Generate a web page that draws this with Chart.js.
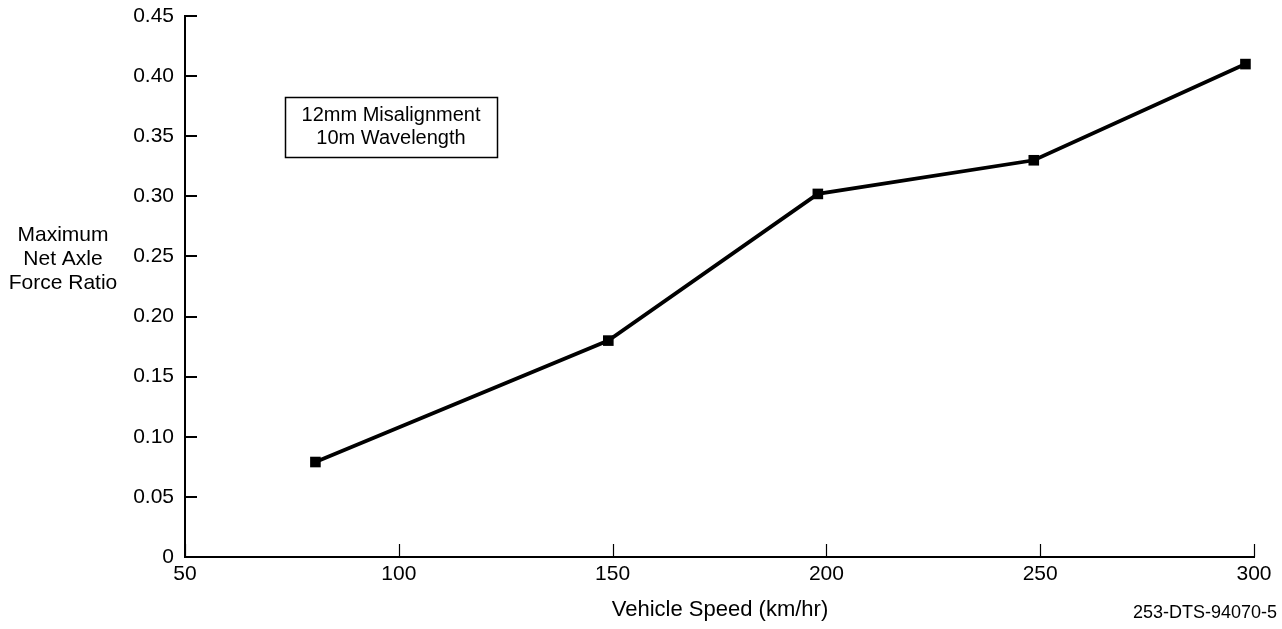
<!DOCTYPE html>
<html>
<head>
<meta charset="utf-8">
<script src="https://cdn.jsdelivr.net/npm/chart.js@4.4.1/dist/chart.umd.min.js"></script>
<style>
  html, body { margin: 0; padding: 0; background: #fff; }
  #wrap { width: 1282px; height: 629px; }
</style>
</head>
<body>
<div id="wrap"><canvas id="c" width="1282" height="629"></canvas></div>
<script>
// ---- data ----
const speeds = [80.5, 149, 198, 248.5, 298];
const forceRatio = [0.079, 0.18, 0.302, 0.33, 0.41];
const xTicks = [50, 100, 150, 200, 250, 300];
const yTicks = [0, 0.05, 0.10, 0.15, 0.20, 0.25, 0.30, 0.35, 0.40, 0.45];
const yTitleLines = ['Maximum', 'Net Axle', 'Force Ratio'];
const xTitle = 'Vehicle Speed (km/hr)';
const noteLines = ['12mm Misalignment', '10m Wavelength'];
const footnote = '253-DTS-94070-5';

const FONT = '"Liberation Sans", Arial, Helvetica, sans-serif';

const points = speeds.map((s, i) => ({ x: s, y: forceRatio[i] }));

const decorPlugin = {
  id: 'decor',
  afterDraw(chart) {
    const ctx = chart.ctx;
    const xs = chart.scales.x, ys = chart.scales.y;
    const ca = chart.chartArea;
    ctx.save();
    ctx.strokeStyle = '#000';
    // inward y ticks
    ctx.lineWidth = 2;
    yTicks.forEach(v => {
      const py = Math.round(ys.getPixelForValue(v));
      ctx.beginPath();
      ctx.moveTo(ca.left, py);
      ctx.lineTo(ca.left + 12, py);
      ctx.stroke();
    });
    // inward x ticks
    ctx.lineWidth = 1.2;
    xTicks.forEach(v => {
      const px = Math.round(xs.getPixelForValue(v)) + 0.5;
      ctx.beginPath();
      ctx.moveTo(px, ca.bottom);
      ctx.lineTo(px, ca.bottom - 13);
      ctx.stroke();
    });
    // y axis title (horizontal, three lines)
    ctx.fillStyle = '#000';
    ctx.font = '21px ' + FONT;
    ctx.textAlign = 'center';
    ctx.textBaseline = 'middle';
    yTitleLines.forEach((t, i) => ctx.fillText(t, 63, 235 + i * 24));
    // x axis title
    ctx.font = '22px ' + FONT;
    ctx.fillText(xTitle, 720, 610);
    // note box
    ctx.lineWidth = 1.5;
    ctx.strokeRect(285.5, 97.5, 212, 60);
    ctx.font = '20px ' + FONT;
    ctx.fillText(noteLines[0], 391, 115);
    ctx.fillText(noteLines[1], 391, 138);
    // footnote
    ctx.font = '18px ' + FONT;
    ctx.textAlign = 'right';
    ctx.fillText(footnote, 1277, 613);
    ctx.restore();
  }
};

new Chart(document.getElementById('c'), {
  type: 'scatter',
  data: {
    datasets: [{
      data: points,
      showLine: true,
      borderColor: '#000',
      backgroundColor: '#000',
      borderWidth: 3.8,
      pointStyle: 'rect',
      pointRadius: 7.5,
      pointHoverRadius: 7.5,
      pointBackgroundColor: '#000',
      pointBorderWidth: 0,
      tension: 0
    }]
  },
  options: {
    responsive: false,
    animation: false,
    events: [],
    layout: { padding: { top: 16, right: 28, left: 0, bottom: 0 } },
    plugins: { legend: { display: false }, tooltip: { enabled: false } },
    scales: {
      x: {
        type: 'linear',
        min: 50, max: 300,
        afterFit: s => { s.height = 72; s.paddingLeft = 0; s.paddingRight = 0; },
        afterBuildTicks: s => { s.ticks = xTicks.map(v => ({ value: v })); },
        ticks: {
          color: '#000',
          font: { size: 21, family: FONT },
          padding: 5,
          maxRotation: 0,
          callback: v => String(v)
        },
        grid: { display: true, drawOnChartArea: false, drawTicks: false },
        border: { display: true, color: '#000', width: 2 }
      },
      y: {
        type: 'linear',
        min: 0, max: 0.45,
        afterFit: s => { s.width = 185; s.paddingTop = 0; s.paddingBottom = 0; },
        afterBuildTicks: s => { s.ticks = yTicks.map(v => ({ value: v })); },
        ticks: {
          color: '#000',
          font: { size: 21, family: FONT },
          padding: 11,
          callback: v => (v === 0 ? '0' : v.toFixed(2))
        },
        grid: { display: true, drawOnChartArea: false, drawTicks: false },
        border: { display: true, color: '#000', width: 2 }
      }
    }
  },
  plugins: [decorPlugin]
});
</script>
</body>
</html>
